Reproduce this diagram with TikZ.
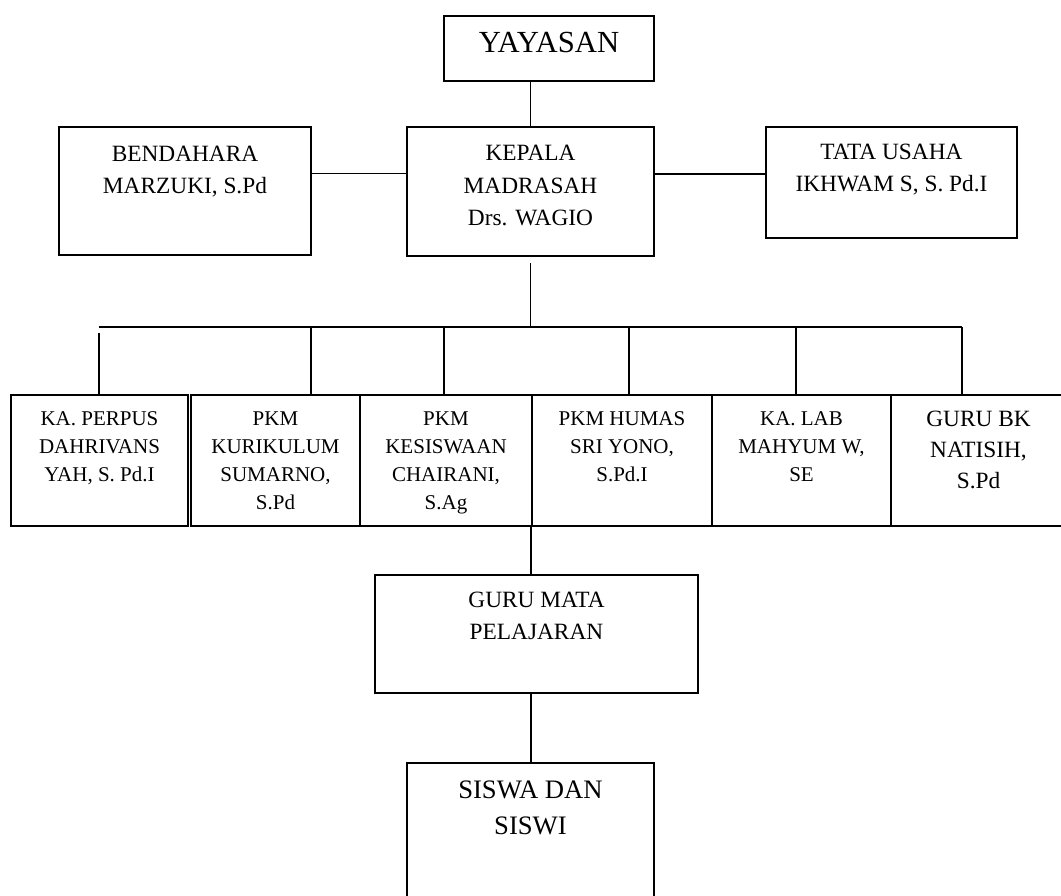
\documentclass[tikz,border=0pt]{standalone}
\usepackage{fontspec}
\setmainfont{Liberation Serif}
\usetikzlibrary{fit,calc}
\begin{document}
\begin{tikzpicture}[x=0.75pt,y=-0.75pt,
  box/.style={draw, line width=1.3pt, inner sep=0pt, rectangle},
  txt/.style={inner sep=0pt, align=center, anchor=north},
  conn/.style={line width=1.2pt},
  fyay/.style={font=\fontsize{23}{28}\selectfont},
  ftop/.style={font=\fontsize{17.5}{24.4}\selectfont},
  frow/.style={font=\fontsize{15.75}{21}\selectfont},
  fbk/.style={font=\fontsize{17.5}{23.25}\selectfont},
  fguru/.style={font=\fontsize{17.5}{24}\selectfont},
  fsis/.style={font=\fontsize{20}{27}\selectfont}]
\useasboundingbox (0,0) rectangle (1061,896);
\begin{scope}
\clip (0,0) rectangle (1061,896);
% boxes
\node[box, fit={(444,16) (654,81)}] (yay) {};
\node[box, fit={(407,127) (654,256)}] (kep) {};
\node[box, fit={(59,127) (311,255)}] (ben) {};
\node[box, fit={(766,127) (1017,238)}] (tata) {};
\node[box, fit={(11,395) (188,526)}] (b1) {};
\node[box, fit={(191,395) (360,526)}] (b2) {};
\node[box, fit={(360,395) (532,526)}] (b3) {};
\node[box, fit={(532,395) (712,526)}] (b4) {};
\node[box, fit={(712,395) (891,526)}] (b5) {};
\node[box, fit={(891,395) (1066,526)}] (b6) {};
\node[box, fit={(375,575) (698,693)}] (guru) {};
\node[box, fit={(407,763) (654,905)}] (siswa) {};
% texts
\node[txt, fyay] (tyay) at ([yshift=-12.4pt]yay.north) {YAYASAN};
\node[txt, ftop] (tben) at ([yshift=-14.7pt]ben.north) {BENDAHARA\\MARZUKI, S.Pd};
\node[txt, ftop] (tkep) at ([yshift=-14pt]kep.north) {KEPALA\\MADRASAH\\Drs. WAGIO};
\node[txt, ftop] (ttata) at ([yshift=-13.2pt]tata.north) {TATA USAHA\\IKHWAM S, S. Pd.I};
\node[txt, frow] (tb1) at ([yshift=-12.75pt]b1.north) {KA. PERPUS\\DAHRIVANS\\YAH, S. Pd.I};
\node[txt, frow] (tb2) at ([yshift=-12.75pt]b2.north) {PKM\\KURIKULUM\\SUMARNO,\\S.Pd};
\node[txt, frow] (tb3) at ([yshift=-12.75pt]b3.north) {PKM\\KESISWAAN\\CHAIRANI,\\S.Ag};
\node[txt, frow] (tb4) at ([yshift=-12.75pt]b4.north) {PKM HUMAS\\SRI YONO,\\S.Pd.I};
\node[txt, frow] (tb5) at ([yshift=-12.75pt]b5.north) {KA. LAB\\MAHYUM W,\\SE};
\node[txt, fbk] (tb6) at ([yshift=-12.75pt]b6.north) {GURU BK\\NATISIH,\\S.Pd};
\node[txt, fguru] (tguru) at ([yshift=-13.5pt]guru.north) {GURU MATA\\PELAJARAN};
\node[txt, fsis] (tsis) at ([yshift=-13.5pt]siswa.north) {SISWA DAN\\SISWI};
% connectors
\draw[conn] (kep.north) -- (kep.north |- yay.south);
\draw[conn] ([yshift=13pt]ben.east) -- ([yshift=13pt]ben.east -| kep.west);
\draw[conn] ([yshift=13pt]kep.east) -- ([yshift=13pt]kep.east -| tata.west);
\coordinate (bus) at (532,327);
\coordinate (d1) at (99,327);
\coordinate (d2) at (311,327);
\coordinate (d3) at (444,327);
\coordinate (d4) at (629,327);
\coordinate (d5) at (796,327);
\coordinate (d6) at (962,327);
\draw[conn] ([yshift=-4.5pt]kep.south) -- (kep.south |- bus);
\draw[conn] (d1) -- (d6);
\draw[conn] ([yshift=-4.5pt]d1) -- (d1 |- b1.north);
\draw[conn] (d2) -- (d2 |- b2.north);
\draw[conn] (d3) -- (d3 |- b3.north);
\draw[conn] (d4) -- (d4 |- b4.north);
\draw[conn] (d5) -- (d5 |- b5.north);
\draw[conn] (d6) -- (d6 |- b6.north);
\draw[conn] (b4.south west) -- (b4.south west |- guru.north);
\draw[conn] (guru.south -| b4.south west) -- (siswa.north -| b4.south west);
\end{scope}
\end{tikzpicture}
\end{document}
